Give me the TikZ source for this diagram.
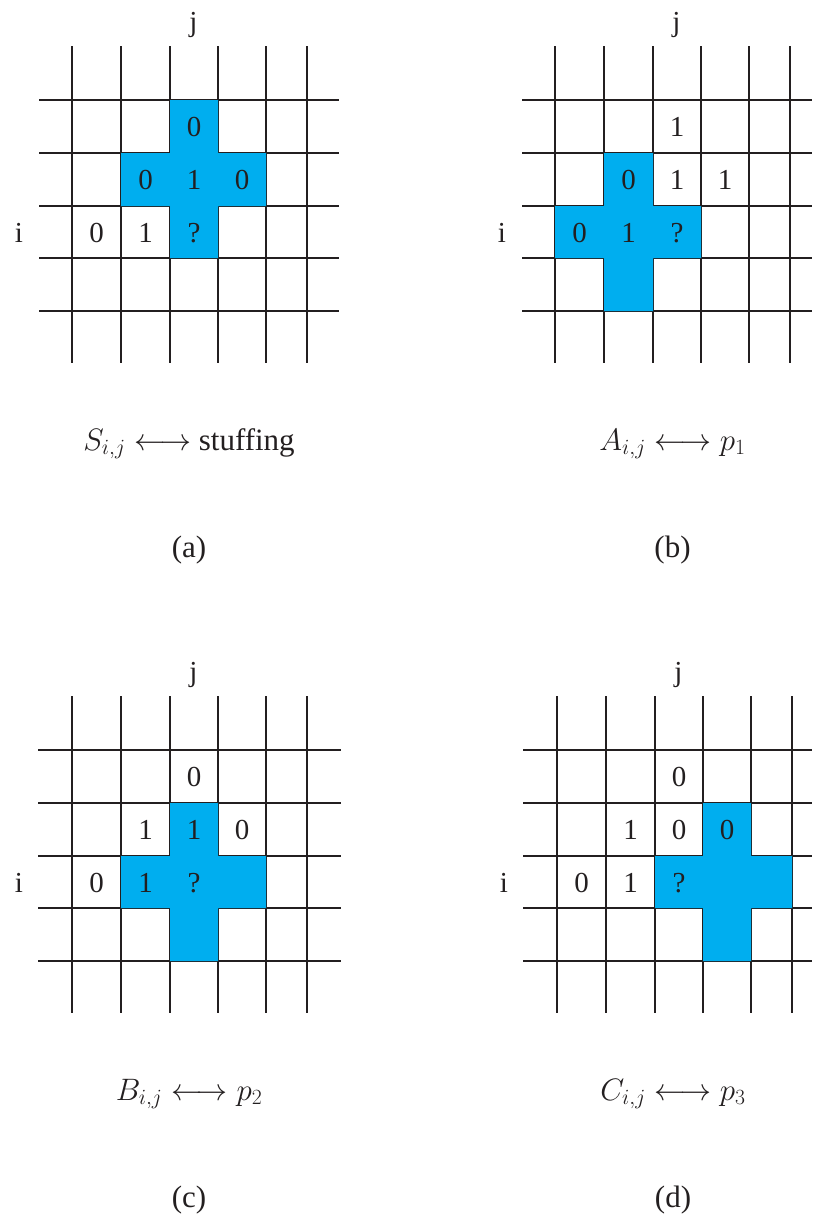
\documentclass[tikz,border=0pt]{standalone}
\usepackage{fix-cm}
\usepackage{fontspec}
\setmainfont{Liberation Serif}
\definecolor{crossblue}{RGB}{0,174,239}
\definecolor{gridline}{RGB}{35,31,32}
\tikzset{
  gl/.style={draw=gridline, line cap=butt},
  celltext/.style={font=\fontsize{29}{34}\selectfont, text=gridline, anchor=base, inner sep=0pt},
  captext/.style={font=\fontsize{31}{37}\selectfont, text=gridline, anchor=base, inner sep=0pt},
}
\newcommand{\crossfill}[8]{\fill[crossblue] (#2,#5) -| (#3,#6) -| (#4,#7) -| (#3,#8) -| (#2,#7) -| (#1,#6) -| (#2,#5) -- cycle;}
\begin{document}
\begin{tikzpicture}[x=1pt,y=-1pt]
\useasboundingbox (0,0) rectangle (812,1218);
% ---------------- panel (a)
\begin{scope}
  \foreach \x/\w in {72/2.8,121/2.8,170/2.2,218/2,266/2,307/2.8} \draw[gl,line width=\w pt] (\x,46) -- (\x,363);
  \foreach \y/\w in {100/2,153/2.2,206/2,258/2.8,311/2} \draw[gl,line width=\w pt] (39,\y) -- (339,\y);
  \crossfill{121}{170}{218}{266}{100}{153}{206}{258}
  \node[celltext] (a-j) at (193.5,31) {j};
  \node[celltext] (a-i) at (19,242) {i};
  \node[celltext] (a-r0c2) at (194,136) {0};
  \node[celltext] (a-r1c1) at (145.5,189.5) {0};
  \node[celltext] (a-r1c2) at (194,189.5) {1};
  \node[celltext] (a-r1c3) at (242,189.5) {0};
  \node[celltext] (a-r2c0) at (96.5,242) {0};
  \node[celltext] (a-r2c1) at (145.5,242) {1};
  \node[celltext] (a-r2c2) at (194,242) {?};
  \node[captext] (a-cap) at (189,450) {$S_{i,j}\longleftrightarrow$ stuffing};
  \node[captext] (a-lab) at (189,557) {(a)};
\end{scope}
% ---------------- panel (b)
\begin{scope}[shift={(483,0)}]
  \foreach \x/\w in {72/2.2,121/2.2,170/2,218/2.2,266/2.8,307/2.8} \draw[gl,line width=\w pt] (\x,46) -- (\x,363);
  \foreach \y/\w in {100/2,153/2.2,206/2,258/2.8,311/2} \draw[gl,line width=\w pt] (39,\y) -- (329,\y);
  \crossfill{72}{121}{170}{218}{153}{206}{258}{311}
  \node[celltext] (b-j) at (193.5,31) {j};
  \node[celltext] (b-i) at (19,242) {i};
  \node[celltext] (b-r0c2) at (194,136) {1};
  \node[celltext] (b-r1c1) at (145.5,189.5) {0};
  \node[celltext] (b-r1c2) at (194,189.5) {1};
  \node[celltext] (b-r1c3) at (242,189.5) {1};
  \node[celltext] (b-r2c0) at (96.5,242) {0};
  \node[celltext] (b-r2c1) at (145.5,242) {1};
  \node[celltext] (b-r2c2) at (194,242) {?};
  \node[captext] (b-cap) at (189.5,450) {$A_{i,j}\longleftrightarrow p_1$};
  \node[captext] (b-lab) at (189.5,557) {(b)};
\end{scope}
% ---------------- panel (c)
\begin{scope}[shift={(0,650)}]
  \foreach \x/\w in {72/2.2,121/2,170/2,218/2,266/2,307/2.8} \draw[gl,line width=\w pt] (\x,46) -- (\x,363);
  \foreach \y/\w in {100/2,153/2.8,206/2,258/2,311/2} \draw[gl,line width=\w pt] (38,\y) -- (341,\y);
  \crossfill{121}{170}{218}{266}{153}{206}{258}{311}
  \node[celltext] (c-j) at (193.5,31) {j};
  \node[celltext] (c-i) at (19,242) {i};
  \node[celltext] (c-r0c2) at (194,136) {0};
  \node[celltext] (c-r1c1) at (145.5,189.5) {1};
  \node[celltext] (c-r1c2) at (194,189.5) {1};
  \node[celltext] (c-r1c3) at (242,189.5) {0};
  \node[celltext] (c-r2c0) at (96.5,242) {0};
  \node[celltext] (c-r2c1) at (145.5,242) {1};
  \node[celltext] (c-r2c2) at (194,242) {?};
  \node[captext] (c-cap) at (189,450) {$B_{i,j}\longleftrightarrow p_2$};
  \node[captext] (c-lab) at (189,557) {(c)};
\end{scope}
% ---------------- panel (d)
\begin{scope}[shift={(485,650)}]
  \foreach \x/\w in {72/2.2,121/2.2,170/2,218/2,266/2,307/2} \draw[gl,line width=\w pt] (\x,46) -- (\x,363);
  \foreach \y/\w in {100/2,153/2.8,206/2,258/2,311/2} \draw[gl,line width=\w pt] (38,\y) -- (327,\y);
  \crossfill{170}{218}{266}{307}{153}{206}{258}{311}
  \node[celltext] (d-j) at (193.5,31) {j};
  \node[celltext] (d-i) at (19,242) {i};
  \node[celltext] (d-r0c2) at (194,136) {0};
  \node[celltext] (d-r1c1) at (145.5,189.5) {1};
  \node[celltext] (d-r1c2) at (194,189.5) {0};
  \node[celltext] (d-r1c3) at (242,189.5) {0};
  \node[celltext] (d-r2c0) at (96.5,242) {0};
  \node[celltext] (d-r2c1) at (145.5,242) {1};
  \node[celltext] (d-r2c2) at (194,242) {?};
  \node[captext] (d-cap) at (188,450) {$C_{i,j}\longleftrightarrow p_3$};
  \node[captext] (d-lab) at (188,557) {(d)};
\end{scope}
\end{tikzpicture}
\end{document}
